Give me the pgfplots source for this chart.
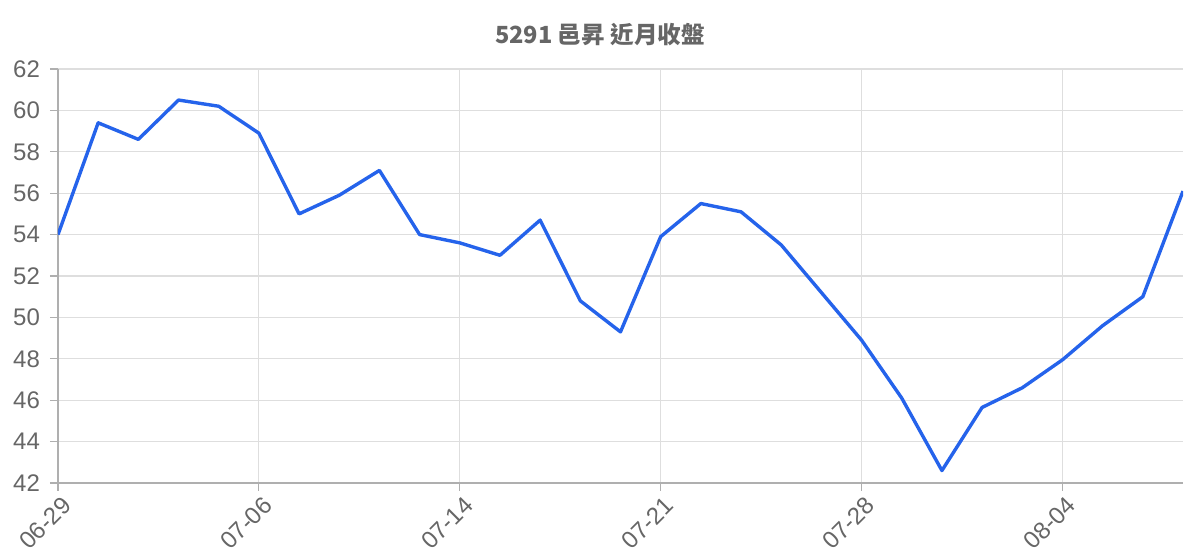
\documentclass[border=0pt]{standalone}
\usepackage{fontspec}
\setmainfont{Liberation Sans}
\newfontfamily\cjk{Noto Sans CJK TC}
\usepackage{pgfplots}
\pgfplotsset{compat=1.18}
\definecolor{lineblue}{RGB}{37,99,235}
\definecolor{txtgray}{RGB}{102,102,102}
\definecolor{gridgray}{RGB}{222,222,222}
\definecolor{axgray}{RGB}{175,175,175}
\begin{document}
\begin{tikzpicture}
\path[use as bounding box] (-29pt,-38.5pt) rectangle (571pt,241.5pt);
\begin{axis}[
    name=ax,
    scale only axis,
    width=562.5pt,
    height=207pt,
    xmin=0, xmax=28,
    ymin=42, ymax=62,
    xtick={0,5,10,15,20,25},
    xticklabels={06-29,07-06,07-14,07-21,07-28,08-04},
    ytick={42,44,...,62},
    grid=major,
    grid style={gridgray, line width=0.6pt},
    axis line style={axgray, line width=0.7pt},
    axis x line*=bottom,
    axis y line*=left,
    tick align=outside,
    major tick length=4pt,
    tick style={axgray, line width=0.6pt},
    ticklabel style={font=\fontsize{12}{14}\selectfont, text=txtgray},
    x tick label style={rotate=45, anchor=north east, xshift=3pt, yshift=1pt},
    y tick label style={xshift=-1.5pt},
    /pgf/number format/assume math mode=true,
]
\addplot[lineblue, line width=1.7pt, line join=round] coordinates {
    (0,54.0) (1,59.4) (2,58.6) (3,60.5) (4,60.2) (5,58.9) (6,55.0) (7,55.9)
    (8,57.1) (9,54.0) (10,53.6) (11,53.0) (12,54.7) (13,50.8) (14,49.3)
    (15,53.9) (16,55.5) (17,55.1) (18,53.5) (19,51.2) (20,48.9) (21,46.1)
    (22,42.6) (23,45.65) (24,46.6) (25,47.95) (26,49.6) (27,51.0) (28,56.1)
};
\end{axis}
\node[font=\cjk\bfseries\fontsize{11.8}{14}\selectfont, text=txtgray] at (271pt,224pt) {5291 邑昇 近月收盤};
\end{tikzpicture}
\end{document}
